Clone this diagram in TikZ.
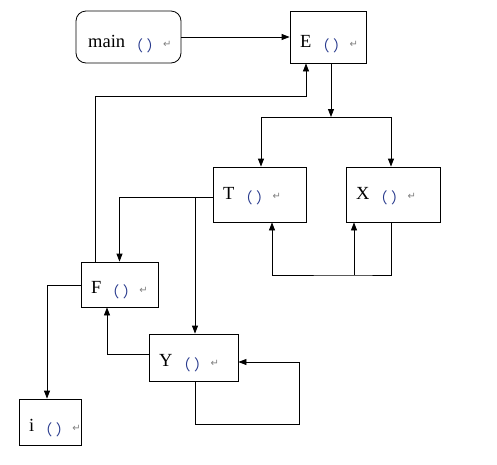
\documentclass[tikz,border=0pt]{standalone}
\usepackage{fontspec}
\setmainfont{Liberation Serif}
\newfontfamily\cjk{Noto Sans CJK SC}
\newfontfamily\symf{DejaVu Sans}
\usetikzlibrary{arrows.meta,calc}
\definecolor{parc}{rgb}{0.15,0.22,0.55}
\newcommand{\lbl}[1]{{\fontsize{18.5}{18.5}\selectfont #1}\hspace{3pt}{\raisebox{-4.5pt}{\fontsize{15}{15}\cjk\textcolor{parc}{（\hspace{3.5pt}）}}}\hspace{1.5pt}{\fontsize{10}{10}\symf\textcolor{gray}{↵}}}
\begin{document}
\begin{tikzpicture}[x=1pt,y=-1pt,
  box/.style={draw,line width=0.8pt,inner sep=0pt},
  txt/.style={anchor=base west,inner sep=0pt},
  arr/.style={draw,line width=0.8pt,-{Triangle[length=8pt,width=6pt]}},
  ln/.style={draw,line width=0.8pt}]
\useasboundingbox (0,0) rectangle (497,464);
\node[box,rounded corners=10pt,minimum width=105pt,minimum height=52pt] (main) at (128.5,37) {};
\node[box,minimum width=76pt,minimum height=52pt] (E) at (328,37) {};
\node[box,minimum width=93pt,minimum height=55pt] (T) at (259.5,194.5) {};
\node[box,minimum width=94pt,minimum height=55pt] (X) at (393,194.5) {};
\node[box,minimum width=77pt,minimum height=45pt] (F) at (119.5,284.5) {};
\node[box,minimum width=89pt,minimum height=47pt] (Y) at (193.5,357.5) {};
\node[box,minimum width=62pt,minimum height=46pt] (i) at (50,422) {};
\node[txt] (mainT) at (88,47) {\lbl{main}};
\node[txt] (ET) at (300,47) {\lbl{E}};
\node[txt] (TT) at (223,199) {\lbl{T}};
\node[txt] (XT) at (356,199) {\lbl{X}};
\node[txt] (FT) at (91,293) {\lbl{F}};
\node[txt] (YT) at (159,366) {\lbl{Y}};
\node[txt] (iT) at (29,431) {\lbl{i}};
\coordinate (split) at (331,117);
\coordinate (xb) at (354,275);
\coordinate (yl) at (299,424);
\draw[arr] (main.east) -- (E.west);
\draw[arr] (E.south -| split) -- (split);
\draw[arr] (split) -| ([xshift=1.5pt]T.north);
\draw[arr] (split) -| ([xshift=-2pt]X.north);
\draw[arr] ([yshift=-2.5pt]T.west) -| (F.north);
\draw[arr] ([yshift=-2.5pt]T.west) -| ([xshift=1.5pt]Y.north);
\draw[arr] ([xshift=-2pt]X.south) |- (xb) -| ([xshift=12.5pt]T.south);
\draw[arr] (xb) -- (xb |- X.south);
\draw[arr] ([xshift=-24.5pt]F.north) -- ++(0,-165) -| ([xshift=-22pt]E.south);
\draw[arr] ([yshift=-0.5pt]F.west) -| ([xshift=-3pt]i.north);
\draw[arr] ([yshift=3.5pt]Y.west) -| ([xshift=-12.5pt]F.south);
\draw[arr] ([xshift=1.5pt]Y.south) |- (yl) |- ([yshift=-4.5pt]Y.east);
\end{tikzpicture}
\end{document}
